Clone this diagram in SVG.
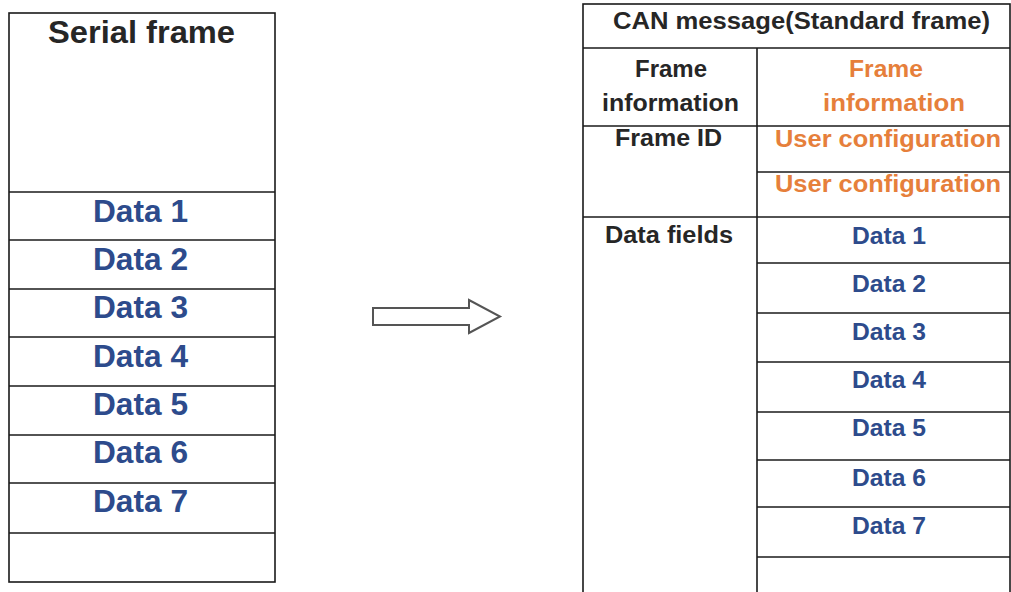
<svg xmlns="http://www.w3.org/2000/svg" width="1011" height="592" viewBox="0 0 1011 592">
<style>
.bg{fill:#ffffff}
.cell{fill:none;stroke:#1a1a1a;stroke-width:1.6}
.ln{stroke:#1a1a1a;stroke-width:1.6}
.t{font-family:"Liberation Sans",Arial,sans-serif;font-weight:bold}
.big{font-size:31px}
.sm{font-size:23px}
.blk{fill:#262626}
.blu{fill:#2d4b8c}
.org{fill:#e67f3b}
.arrow{fill:#ffffff;stroke:#555555;stroke-width:2;stroke-linejoin:miter}
</style>
<rect class="bg" x="0" y="0" width="1011" height="592"/>

<g id="serial-frame">
  <rect class="cell" x="9" y="13" width="266" height="569"/>
  <line class="ln" x1="9" y1="192" x2="275" y2="192"/>
  <line class="ln" x1="9" y1="240" x2="275" y2="240"/>
  <line class="ln" x1="9" y1="289" x2="275" y2="289"/>
  <line class="ln" x1="9" y1="337" x2="275" y2="337"/>
  <line class="ln" x1="9" y1="386" x2="275" y2="386"/>
  <line class="ln" x1="9" y1="435" x2="275" y2="435"/>
  <line class="ln" x1="9" y1="483" x2="275" y2="483"/>
  <line class="ln" x1="9" y1="533" x2="275" y2="533"/>
  <text class="t big blk" x="48" y="43" textLength="187" lengthAdjust="spacingAndGlyphs">Serial frame</text>
  <text class="t big blu" x="93" y="222" textLength="95" lengthAdjust="spacingAndGlyphs">Data 1</text>
  <text class="t big blu" x="93" y="270" textLength="95" lengthAdjust="spacingAndGlyphs">Data 2</text>
  <text class="t big blu" x="93" y="318" textLength="95" lengthAdjust="spacingAndGlyphs">Data 3</text>
  <text class="t big blu" x="93" y="367" textLength="95" lengthAdjust="spacingAndGlyphs">Data 4</text>
  <text class="t big blu" x="93" y="415" textLength="95" lengthAdjust="spacingAndGlyphs">Data 5</text>
  <text class="t big blu" x="93" y="463" textLength="95" lengthAdjust="spacingAndGlyphs">Data 6</text>
  <text class="t big blu" x="93" y="512" textLength="95" lengthAdjust="spacingAndGlyphs">Data 7</text>
</g>

<g id="connectors">
  <path class="arrow" d="M373,308 H469 V300 L500,316.5 L469,333 V325 H373 Z"/>
</g>

<g id="can-message">
  <rect class="cell" x="583" y="4" width="427" height="610"/>
  <line class="ln" x1="583" y1="48" x2="1010" y2="48"/>
  <line class="ln" x1="757" y1="48" x2="757" y2="600"/>
  <line class="ln" x1="583" y1="126" x2="1010" y2="126"/>
  <line class="ln" x1="757" y1="172" x2="1010" y2="172"/>
  <line class="ln" x1="583" y1="217" x2="1010" y2="217"/>
  <line class="ln" x1="757" y1="263" x2="1010" y2="263"/>
  <line class="ln" x1="757" y1="313" x2="1010" y2="313"/>
  <line class="ln" x1="757" y1="362" x2="1010" y2="362"/>
  <line class="ln" x1="757" y1="412" x2="1010" y2="412"/>
  <line class="ln" x1="757" y1="460" x2="1010" y2="460"/>
  <line class="ln" x1="757" y1="507" x2="1010" y2="507"/>
  <line class="ln" x1="757" y1="557" x2="1010" y2="557"/>
  <text class="t sm blk" x="613" y="29" textLength="377" lengthAdjust="spacingAndGlyphs">CAN message(Standard frame)</text>
  <text class="t sm blk" x="635" y="77" textLength="72" lengthAdjust="spacingAndGlyphs">Frame</text>
  <text class="t sm blk" x="602" y="111" textLength="137" lengthAdjust="spacingAndGlyphs">information</text>
  <text class="t sm org" x="886" y="77" text-anchor="middle" textLength="74" lengthAdjust="spacingAndGlyphs">Frame</text>
  <text class="t sm org" x="894" y="111" text-anchor="middle" textLength="142" lengthAdjust="spacingAndGlyphs">information</text>
  <text class="t sm blk" x="615" y="146" textLength="107" lengthAdjust="spacingAndGlyphs">Frame ID</text>
  <text class="t sm org" x="775" y="147" textLength="226" lengthAdjust="spacingAndGlyphs">User configuration</text>
  <text class="t sm org" x="775" y="192" textLength="226" lengthAdjust="spacingAndGlyphs">User configuration</text>
  <text class="t sm blk" x="605" y="243" textLength="128" lengthAdjust="spacingAndGlyphs">Data fields</text>
  <text class="t sm blu" x="852" y="244" textLength="74" lengthAdjust="spacingAndGlyphs">Data 1</text>
  <text class="t sm blu" x="852" y="292" textLength="74" lengthAdjust="spacingAndGlyphs">Data 2</text>
  <text class="t sm blu" x="852" y="340" textLength="74" lengthAdjust="spacingAndGlyphs">Data 3</text>
  <text class="t sm blu" x="852" y="388" textLength="74" lengthAdjust="spacingAndGlyphs">Data 4</text>
  <text class="t sm blu" x="852" y="436" textLength="74" lengthAdjust="spacingAndGlyphs">Data 5</text>
  <text class="t sm blu" x="852" y="486" textLength="74" lengthAdjust="spacingAndGlyphs">Data 6</text>
  <text class="t sm blu" x="852" y="534" textLength="74" lengthAdjust="spacingAndGlyphs">Data 7</text>
</g>
</svg>
